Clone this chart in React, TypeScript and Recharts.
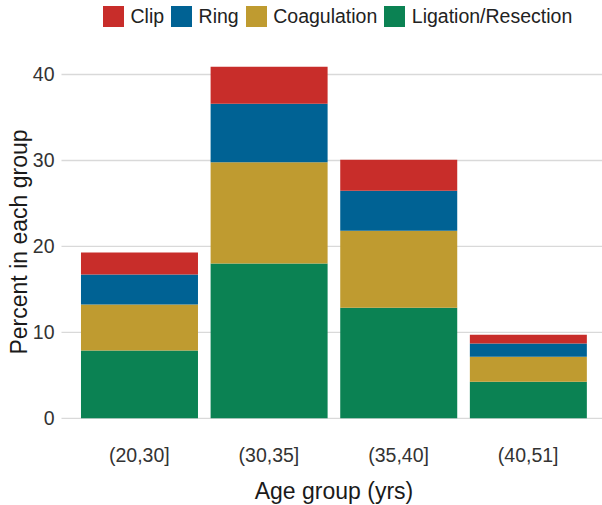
import React from "react";
import { BarChart, Bar, XAxis, YAxis, CartesianGrid } from "recharts";

const ageGroups = ["(20,30]", "(30,35]", "(35,40]", "(40,51]"];
const ligation = [7.9, 18.0, 12.87, 4.27];
const coagulation = [5.33, 11.78, 8.96, 2.9];
const ring = [3.49, 6.82, 4.65, 1.55];
const clip = [2.56, 4.31, 3.6, 1.01];
const yTicks = [0, 10, 20, 30, 40];

// stacked bottom -> top
const series = [
  { key: "ligation", name: "Ligation/Resection", color: "#0B8253" },
  { key: "coagulation", name: "Coagulation", color: "#BF9B30" },
  { key: "ring", name: "Ring", color: "#006294" },
  { key: "clip", name: "Clip", color: "#C82D2A" },
];
const legendOrder = ["clip", "ring", "coagulation", "ligation"];

const data = ageGroups.map((g, i) => ({
  group: g,
  ligation: ligation[i],
  coagulation: coagulation[i],
  ring: ring[i],
  clip: clip[i],
}));

const font = "'Liberation Sans', Arial, sans-serif";

const Legend = () => (
  <div
    style={{
      position: "absolute",
      left: 103,
      top: 6,
      display: "flex",
      alignItems: "center",
      fontFamily: font,
      fontSize: 19.5,
      color: "#222",
      lineHeight: "21px",
    }}
  >
    {legendOrder.map((k) => {
      const s = series.find((x) => x.key === k)!;
      return (
        <div key={k} style={{ display: "flex", alignItems: "center", marginRight: 7 }}>
          <span style={{ width: 21, height: 21, background: s.color, marginRight: 6.5, display: "inline-block" }} />
          <span>{s.name}</span>
        </div>
      );
    })}
  </div>
);

export default function App() {
  return (
    <div style={{ position: "absolute", left: 0, top: 0, width: 602, height: 505, background: "#fff" }}>
      <BarChart
        width={602}
        height={505}
        data={data}
        margin={{ top: 49, right: 0, bottom: 0, left: 0 }}
        barCategoryGap="5%"
        style={{ fontFamily: font }}
      >
        <CartesianGrid vertical={false} horizontalValues={yTicks} stroke="#d9d9d9" strokeWidth={1.4} />
        <XAxis
          dataKey="group"
          height={69}
          padding={{ left: 13, right: 9 }}
          axisLine={false}
          tickLine={false}
          tickSize={0}
          tickMargin={12}
          tick={{ fill: "#333", fontSize: 19.5 }}
          label={{
            content: () => (
              <text x={334} y={499} textAnchor="middle" fill="#1a1a1a" fontSize={23}>
                Age group (yrs)
              </text>
            ),
          }}
        />
        <YAxis
          width={61.5}
          domain={[-2.05, 42.96]}
          ticks={yTicks}
          allowDataOverflow
          axisLine={false}
          tickLine={false}
          tickSize={0}
          tickMargin={7}
          tick={{ fill: "#333", fontSize: 19.5 }}
          label={{
            content: () => (
              <text
                x={26.5}
                y={242}
                transform="rotate(-90, 26.5, 242)"
                textAnchor="middle"
                fill="#1a1a1a"
                fontSize={23}
              >
                Percent in each group
              </text>
            ),
          }}
        />
        {series.map((s) => (
          <Bar key={s.key} dataKey={s.key} name={s.name} stackId="a" fill={s.color} isAnimationActive={false} />
        ))}
      </BarChart>
      <Legend />
    </div>
  );
}
